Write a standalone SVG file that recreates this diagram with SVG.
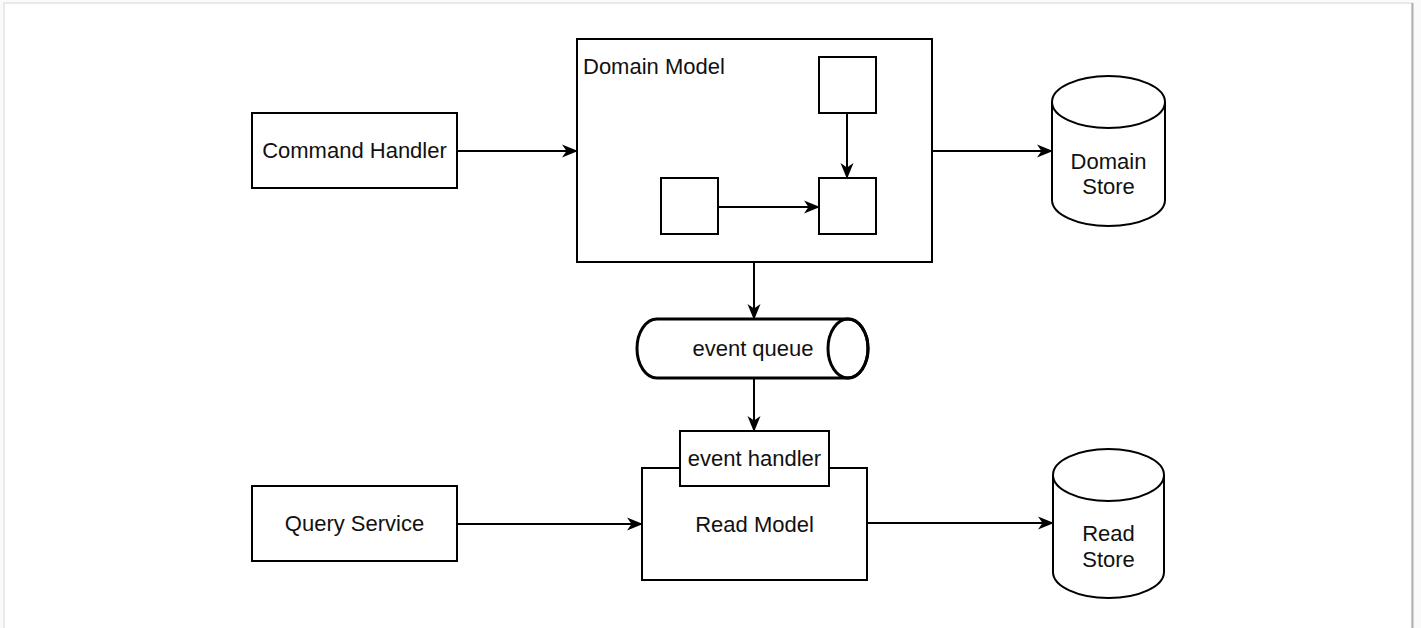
<svg xmlns="http://www.w3.org/2000/svg" width="1421" height="628" viewBox="0 0 1421 628">
<style>
.box{fill:#fff;stroke:#000;stroke-width:2}
.ln{fill:none;stroke:#000;stroke-width:2}
.t{font-family:"Liberation Sans",Arial,sans-serif;font-size:22px;fill:#111}
.c{text-anchor:middle}
</style>
<defs>
<marker id="ar" viewBox="0 0 16 14" markerUnits="strokeWidth" markerWidth="8" markerHeight="7" refX="15" refY="7" orient="auto">
<path d="M0,0.5 L16,7 L0,13.5 L4.5,7 Z" fill="#000"/>
</marker>
</defs>
<rect x="0" y="0" width="1421" height="628" fill="#fafafa"/>
<rect x="4" y="3" width="1408" height="640" fill="#fff" stroke="#e2e2e2" stroke-width="1.5"/>
<line x1="1412.5" y1="3" x2="1412.5" y2="628" stroke="#b0b0b0" stroke-width="2"/>
<g id="command-handler">
<rect class="box" x="252" y="113" width="205" height="75"/>
<text class="t c" x="354.5" y="158">Command Handler</text>
</g>
<g id="domain-model">
<rect class="box" x="577" y="39" width="355" height="223"/>
<text class="t" x="583" y="74">Domain Model</text>
<rect id="dm-top" class="box" x="819" y="57" width="57" height="56"/>
<rect id="dm-left" class="box" x="661" y="178" width="57" height="56"/>
<rect id="dm-right" class="box" x="819" y="178" width="57" height="56"/>
</g>
<g id="domain-store">
<path class="box" d="M1052,102 A56.5,26 0 0 1 1165,102 L1165,200 A56.5,26 0 0 1 1052,200 Z"/>
<path class="ln" d="M1052,102 A56.5,26 0 0 0 1165,102"/>
<text class="t c" x="1108.5" y="169">Domain</text>
<text class="t c" x="1108.5" y="194">Store</text>
</g>
<g id="event-queue">
<path d="M657,319 L848,319 A20,29.5 0 0 1 848,378 L657,378 A20,29.5 0 0 1 657,319 Z" fill="#fff" stroke="#000" stroke-width="3"/>
<ellipse cx="848" cy="348.5" rx="20" ry="29.5" fill="none" stroke="#000" stroke-width="3"/>
<text class="t c" x="753" y="356">event queue</text>
</g>
<g id="read-model">
<rect class="box" x="642" y="468" width="225" height="112"/>
<text class="t c" x="754.5" y="532">Read Model</text>
</g>
<g id="event-handler">
<rect class="box" x="680" y="431" width="149" height="55"/>
<text class="t c" x="754.5" y="466">event handler</text>
</g>
<g id="query-service">
<rect class="box" x="252" y="486" width="205" height="75"/>
<text class="t c" x="354.5" y="531">Query Service</text>
</g>
<g id="read-store">
<path class="box" d="M1053,475 A55.5,26 0 0 1 1164,475 L1164,572 A55.5,26 0 0 1 1053,572 Z"/>
<path class="ln" d="M1053,475 A55.5,26 0 0 0 1164,475"/>
<text class="t c" x="1108.5" y="541">Read</text>
<text class="t c" x="1108.5" y="567">Store</text>
</g>
<g id="connectors">
<line class="ln" x1="457" y1="151" x2="577" y2="151" marker-end="url(#ar)"/>
<line class="ln" x1="847" y1="113" x2="847" y2="178" marker-end="url(#ar)"/>
<line class="ln" x1="718" y1="207" x2="819" y2="207" marker-end="url(#ar)"/>
<line class="ln" x1="932" y1="151" x2="1052" y2="151" marker-end="url(#ar)"/>
<line class="ln" x1="754" y1="262" x2="754" y2="319" marker-end="url(#ar)"/>
<line class="ln" x1="754" y1="378" x2="754" y2="431" marker-end="url(#ar)"/>
<line class="ln" x1="457" y1="524" x2="642" y2="524" marker-end="url(#ar)"/>
<line class="ln" x1="867" y1="523" x2="1053" y2="523" marker-end="url(#ar)"/>
</g>
</svg>
